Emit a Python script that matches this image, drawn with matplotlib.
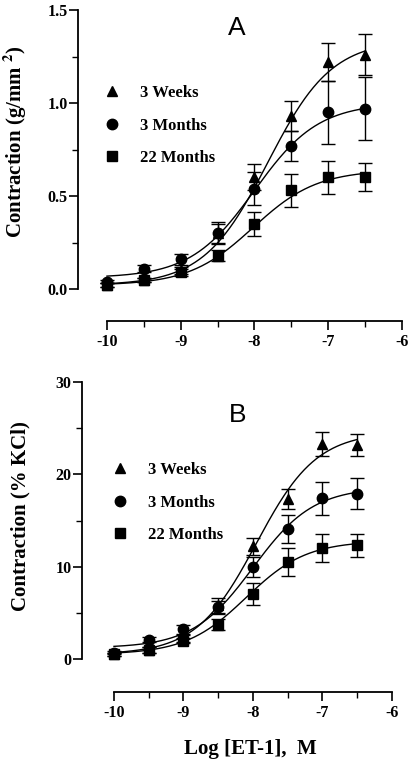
import numpy as np
import matplotlib
matplotlib.use("Agg")
import matplotlib.pyplot as plt
from matplotlib.lines import Line2D
from matplotlib.ticker import MultipleLocator

plt.rcParams['font.family'] = ['Liberation Serif', 'DejaVu Serif']
plt.rcParams['font.weight'] = 'bold'
plt.rcParams['mathtext.fontset'] = 'stix'
plt.rcParams['axes.unicode_minus'] = False

# log [ET-1] concentrations
log_et1 = [-10, -9.5, -9, -8.5, -8, -7.5, -7, -6.5]
groups = ['3 Weeks', '3 Months', '22 Months']
markers = ['^', 'o', 's']

# panel A: contraction (g/mm^2), mean and SEM
a_weeks = [0.02, 0.05, 0.10, 0.30, 0.60, 0.93, 1.22, 1.26]
a_weeks_err = [0.01, 0.01, 0.02, 0.06, 0.07, 0.08, 0.10, 0.11]
a_months = [0.04, 0.11, 0.16, 0.30, 0.54, 0.77, 0.95, 0.97]
a_months_err = [0.01, 0.02, 0.03, 0.05, 0.09, 0.08, 0.17, 0.17]
a_old = [0.02, 0.05, 0.09, 0.18, 0.35, 0.53, 0.60, 0.60]
a_old_err = [0.01, 0.01, 0.02, 0.03, 0.065, 0.09, 0.09, 0.075]

# panel B: contraction (% KCl), mean and SEM
b_weeks = [0.5, 1.0, 2.2, 5.8, 12.2, 17.3, 23.3, 23.2]
b_weeks_err = [0.2, 0.3, 0.4, 0.8, 0.9, 1.1, 1.3, 1.2]
b_months = [0.7, 2.1, 3.2, 5.6, 10.0, 14.1, 17.4, 17.9]
b_months_err = [0.2, 0.3, 0.5, 0.7, 1.1, 1.5, 1.8, 1.7]
b_old = [0.5, 1.0, 2.0, 3.7, 7.0, 10.5, 12.0, 12.3]
b_old_err = [0.2, 0.3, 0.3, 0.6, 1.2, 1.55, 1.5, 1.2]

# fitted sigmoid parameters: bottom, top, logEC50
a_fits = [(0.02, 1.34, -7.82), (0.06, 1.00, -8.0), (0.02, 0.64, -8.02)]
b_fits = [(0.5, 24.6, -7.95), (1.2, 18.6, -8.0), (0.5, 12.8, -8.1)]


def sigmoid(x, bottom, top, ec50):
    return bottom + (top - bottom) / (1 + 10 ** (ec50 - x))


def panel(ax, means, errs, fits, letter, letter_pos, ylab, ylab_pos, ymax,
          ymajor, yminor, ylow, xleft, leg_anchor):
    xf = np.linspace(log_et1[0], log_et1[-1], 300)
    for m, e, f, mk in zip(means, errs, fits, markers):
        ax.plot(xf, sigmoid(xf, *f), color='black', lw=1.0)
        ax.errorbar(log_et1, m, yerr=e, fmt=mk, color='black', ms=7.5,
                    capsize=5, elinewidth=1.0, capthick=1.0, clip_on=False)
    ax.set_xlim(xleft, -6)
    ax.set_ylim(ylow, ymax)
    ax.spines['top'].set_visible(False)
    ax.spines['right'].set_visible(False)
    ax.spines['left'].set_bounds(0, ymax)
    ax.spines['bottom'].set_bounds(-10, -6)
    for s in ('left', 'bottom'):
        ax.spines[s].set_linewidth(1.3)
    ax.xaxis.set_major_locator(MultipleLocator(1))
    ax.xaxis.set_minor_locator(MultipleLocator(0.5))
    ax.yaxis.set_major_locator(MultipleLocator(ymajor))
    ax.yaxis.set_minor_locator(MultipleLocator(yminor))
    ax.tick_params(axis='both', which='major', length=6.5, width=1.2,
                   labelsize=11.5, pad=1)
    ax.tick_params(axis='both', which='minor', length=4, width=1.0)
    ax.tick_params(axis='x', which='major', pad=3)
    for lab in ax.get_xticklabels() + ax.get_yticklabels():
        lab.set_fontweight('bold')
    ax.set_ylabel(ylab, fontsize=15, fontweight='bold')
    ax.yaxis.set_label_coords(*ylab_pos)
    ax.text(letter_pos[0], letter_pos[1], letter, transform=ax.transAxes,
            ha='center', va='center', fontsize=19, fontweight='normal',
            family=['Liberation Sans', 'DejaVu Sans'])
    handles = [Line2D([], [], marker=mk, color='black', ls='none', ms=7.5)
               for mk in markers]
    ax.legend(handles, groups, loc='upper left', bbox_to_anchor=leg_anchor,
              frameon=False, borderpad=0, borderaxespad=0, handlelength=1.0,
              handletextpad=1.17, labelspacing=1.0,
              prop={'size': 12, 'weight': 'bold'})


fig = plt.figure(figsize=(4.15, 7.67), dpi=100)
ax1 = fig.add_axes([78 / 415, 1 - 321 / 767, 324 / 415, 311 / 767])
ax2 = fig.add_axes([82 / 415, 1 - 692 / 767, 310 / 415, 310 / 767])

panel(ax1, [a_weeks, a_months, a_old], [a_weeks_err, a_months_err, a_old_err],
      a_fits, 'A', (0.49, 0.942), 'Contraction (g/mm $^{\\mathbf{2}}$)',
      (-0.151, 0.576), 1.5, 0.5, 0.25, -0.172, -10.393, (0.079, 0.759))
panel(ax2, [b_weeks, b_months, b_old], [b_weeks_err, b_months_err, b_old_err],
      b_fits, 'B', (0.503, 0.894), 'Contraction (% KCl)',
      (-0.165, 0.568), 30, 10, 5, -3.57, -10.46, (0.096, 0.742))
ax2.set_xlabel('Log [ET-1],  M', fontsize=15, fontweight='bold')
ax2.xaxis.set_label_coords(0.542, -0.152)

fig.savefig('out.png', dpi=100)
